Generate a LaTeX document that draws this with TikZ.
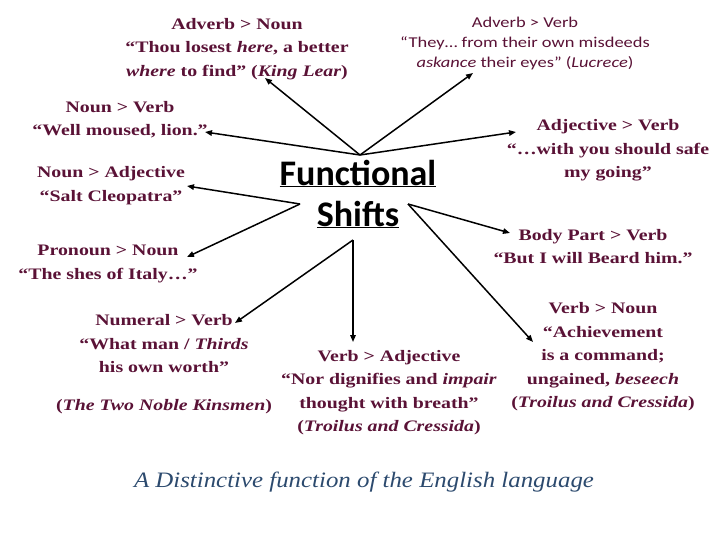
\documentclass[tikz,border=0pt]{standalone}
\usepackage{fontspec}
\setmainfont{Liberation Serif}[FakeStretch=1.24]
\newfontfamily\mottofont{Liberation Serif}[FakeStretch=1.13]
\newfontfamily\calibri{Carlito}[FakeStretch=1.23]
\newfontfamily\titlefont{Carlito}
\usetikzlibrary{arrows.meta}
\definecolor{shiftred}{HTML}{5A1236}
\definecolor{tagblue}{HTML}{2C4A6E}
\tikzset{
  shiftlabel/.style={align=center, inner sep=0pt, text=shiftred, font=\fontsize{16}{23.5}\selectfont\bfseries},
  shiftsanslabel/.style={align=center, inner sep=0pt, text=shiftred, font=\calibri\fontsize{15}{20}\selectfont},
  shiftarrow/.style={line width=1.5pt, -{Triangle[length=7pt,width=5.5pt]}}
}

\begin{document}
\begin{tikzpicture}[x=1pt,y=-1pt]
\useasboundingbox (0,0) rectangle (720,540);
%
\node[align=center, inner sep=0pt, font=\titlefont\bfseries\fontsize{36}{41}\selectfont] (title) at (358,194)
  {\underline{Functional}\\\underline{Shifts}};
%
\node[shiftlabel] (advnoun) at (237,49) {Adverb > Noun\\“Thou losest \textit{here}, a better\\\textit{where} to find” (\textit{King Lear})};
\node[shiftsanslabel] (advverb) at (525,43.5) {Adverb > Verb\\“They… from their own misdeeds\\\textit{askance} their eyes” (\textit{Lucrece})};
\node[shiftlabel] (nounverb) at (120,119.5) {Noun > Verb\\“Well moused, lion.”};
\node[shiftlabel] (nounadj) at (111,185.5) {Noun > Adjective\\“Salt Cleopatra”};
\node[shiftlabel] (pronnoun) at (108,264) {Pronoun > Noun\\“The shes of Italy…”};
\node[shiftlabel] (adjverb) at (608,150.5) {Adjective > Verb\\“…with you should safe\\my going”};
\node[shiftlabel] (bodyverb) at (593,246.5) {Body Part > Verb\\“But I will Beard him.”};
\node[shiftlabel] (numverb) at (164,364) {Numeral > Verb\\“What man / \textit{Thirds}\\his own worth”\\[14pt](\textit{The Two Noble Kinsmen})};
\node[shiftlabel] (verbadj) at (389,392.5) {Verb > Adjective\\“Nor dignifies and \textit{impair}\\thought with breath”\\(\textit{Troilus and Cressida})};
\node[shiftlabel] (verbnoun) at (603,357) {Verb > Noun\\“Achievement\\is a command;\\ungained, \textit{beseech}\\(\textit{Troilus and Cressida})};
%
\node[text=tagblue, inner sep=0pt, font=\mottofont\fontsize{22}{26}\selectfont\itshape] (motto) at (364,482)
  {A Distinctive function of the English language};
%
\coordinate (hubtop) at (360,155);
\coordinate (hubleft) at (300,204);
\coordinate (hubright) at (408,204);
\coordinate (hubdown) at (353,240);
%
\coordinate (toadvnoun) at (265,78);
\coordinate (toadvverb) at (473,73);
\coordinate (tonounverb) at (205,132);
\coordinate (toadjverb) at (516,132);
\coordinate (tonounadj) at (187,186);
\coordinate (topronnoun) at (187,257);
\coordinate (tobodyverb) at (510,233);
\coordinate (tonumverb) at (235,323);
\coordinate (toverbadj) at (353,342);
\coordinate (toverbnoun) at (533,342);
%
\draw[shiftarrow] (hubtop) -- (toadvnoun);
\draw[shiftarrow] (hubtop) -- (toadvverb);
\draw[shiftarrow] (hubtop) -- (tonounverb);
\draw[shiftarrow] (hubtop) -- (toadjverb);
\draw[shiftarrow] (hubleft) -- (tonounadj);
\draw[shiftarrow] (hubleft) -- (topronnoun);
\draw[shiftarrow] (hubright) -- (tobodyverb);
\draw[shiftarrow] (hubright) -- (toverbnoun);
\draw[shiftarrow] (hubdown) -- (tonumverb);
\draw[shiftarrow] (hubdown) -- (toverbadj);
\end{tikzpicture}
\end{document}
